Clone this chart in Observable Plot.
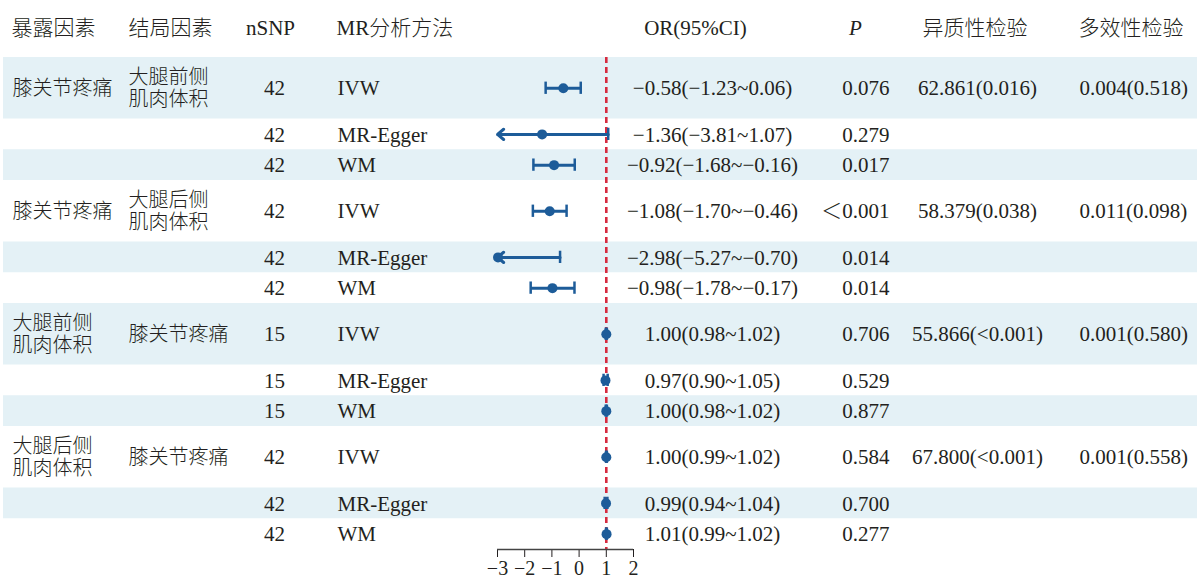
<!DOCTYPE html>
<html>
<head>
<meta charset="utf-8">
<script src="https://cdn.jsdelivr.net/npm/d3@7"></script>
<script src="https://cdn.jsdelivr.net/npm/@observablehq/plot@0.6"></script>
<style>
  html, body { margin: 0; padding: 0; background: #fff; }
  #chart svg { display: block; }
</style>
</head>
<body>
<div id="chart"></div>
<script>
// ---------------- data ----------------
const headerLabels = ["暴露因素", "结局因素", "nSNP", "MR分析方法", "OR(95%CI)", "P", "异质性检验", "多效性检验"];
const exposures = ["膝关节疼痛", "膝关节疼痛", "大腿前侧\n肌肉体积", "大腿后侧\n肌肉体积"];
const outcomes = ["大腿前侧\n肌肉体积", "大腿后侧\n肌肉体积", "膝关节疼痛", "膝关节疼痛"];
const methodNames = ["IVW", "MR-Egger", "WM"];
const nSNP = [42, 42, 42, 42, 42, 42, 15, 15, 15, 42, 42, 42];
const orEst = [-0.58, -1.36, -0.92, -1.08, -2.98, -0.98, 1.00, 0.97, 1.00, 1.00, 0.99, 1.01];
const ciLow = [-1.23, -3.81, -1.68, -1.70, -5.27, -1.78, 0.98, 0.90, 0.98, 0.99, 0.94, 0.99];
const ciHigh = [0.06, 1.07, -0.16, -0.46, -0.70, -0.17, 1.02, 1.05, 1.02, 1.02, 1.04, 1.02];
const pText = ["0.076", "0.279", "0.017", "＜0.001", "0.014", "0.014", "0.706", "0.529", "0.877", "0.584", "0.700", "0.277"];
const heterogeneity = ["62.861(0.016)", "58.379(0.038)", "55.866(<0.001)", "67.800(<0.001)"];
const pleiotropy = ["0.004(0.518)", "0.011(0.098)", "0.001(0.580)", "0.001(0.558)"];
const xTicks = [-3, -2, -1, 0, 1, 2];
const refValue = 1;

// ---------------- layout ----------------
const W = 1197, H = 582;
const mLeft = 497, mRight = W - 633, mTop = 57, mBottom = H - 549;
const xDomain = [-3, 2];
const fmt = d3.format(".2f");
const serif = "'Liberation Serif', 'Times New Roman', 'Noto Sans CJK SC', serif";
const ink = "#231f20";
const blue = "#1d5c99";

let acc = 0;
const rows = orEst.map((est, i) => {
  const g = Math.floor(i / 3), k = i % 3;
  const method = methodNames[k];
  const h = method === "IVW" ? 2 : 1;
  const y1 = acc; acc += h;
  return {
    i, method, est,
    n: String(nSNP[i]),
    lo: ciLow[i], hi: ciHigh[i],
    loShown: Math.max(ciLow[i], xDomain[0]),
    clipped: ciLow[i] < xDomain[0],
    orText: `${fmt(est)}(${fmt(ciLow[i])}~${fmt(ciHigh[i])})`,
    p: pText[i],
    exp: k === 0 ? exposures[g] : "",
    out: k === 0 ? outcomes[g] : "",
    het: k === 0 ? heterogeneity[g] : "",
    ple: k === 0 ? pleiotropy[g] : "",
    y1, y2: acc, yc: y1 + h / 2,
    shaded: i % 2 === 0
  };
});
const yMax = acc;

const columns = [
  {field: "exp", px: 12, anchor: "start", hpx: 11, hanchor: "start", size: 20},
  {field: "out", px: 128, anchor: "start", hpx: 128, hanchor: "start", size: 20},
  {field: "n", px: 274, anchor: "middle", hpx: 270, hanchor: "middle"},
  {field: "method", px: 337, anchor: "start", hpx: 336, hanchor: "start"},
  {field: "orText", px: 712, anchor: "middle", hpx: 695, hanchor: "middle"},
  {field: "p", px: 889, anchor: "end", hpx: 855, hanchor: "middle", hstyle: "italic"},
  {field: "het", px: 977, anchor: "middle", hpx: 922, hanchor: "start"},
  {field: "ple", px: 1079, anchor: "start", hpx: 1078, hanchor: "start"}
];

const marks = [];
marks.push(Plot.rect(rows.filter(d => d.shaded), {
  x1: xDomain[0], x2: xDomain[1], y1: "y1", y2: "y2",
  fill: "#e4f1f6", insetLeft: -(mLeft - 3), insetRight: -mRight
}));
marks.push(Plot.ruleX([refValue], {y1: 0, y2: yMax, stroke: "#d62a3f", strokeWidth: 2.6, strokeDasharray: "6,4"}));
marks.push(Plot.ruleY(rows.filter(d => !d.clipped), {y: "yc", x1: "lo", x2: "hi", stroke: blue, strokeWidth: 3}));
marks.push(Plot.arrow(rows.filter(d => d.clipped), {
  x1: "hi", x2: "loShown", y1: "yc", y2: "yc",
  stroke: blue, strokeWidth: 3, headLength: 4, headAngle: 80
}));
marks.push(Plot.ruleX(rows, {x: "hi", y1: d => d.yc - 0.2, y2: d => d.yc + 0.2, stroke: blue, strokeWidth: 2.5}));
marks.push(Plot.ruleX(rows.filter(d => !d.clipped), {x: "lo", y1: d => d.yc - 0.2, y2: d => d.yc + 0.2, stroke: blue, strokeWidth: 2.5}));
marks.push(Plot.dot(rows, {x: "est", y: "yc", r: 5, fill: blue, stroke: "none"}));
marks.push(Plot.ruleY([yMax], {x1: xDomain[0], x2: xDomain[1], stroke: "#444", strokeWidth: 1.5}));

for (const c of columns) {
  marks.push(Plot.text(rows, {
    y: "yc", text: c.field, frameAnchor: "left", dx: c.px - mLeft,
    textAnchor: c.anchor, lineAnchor: "middle", lineHeight: 1.06,
    fontSize: c.size || 21, fontFamily: serif, fill: ink, fontWeight: 300
  }));
}
columns.forEach((c, j) => {
  marks.push(Plot.text([headerLabels[j]], {
    text: d => d, frameAnchor: "top-left", dx: c.hpx - mLeft, dy: 28 - mTop,
    textAnchor: c.hanchor, lineAnchor: "middle",
    fontSize: 21, fontFamily: serif, fill: ink, fontWeight: 300, fontStyle: c.hstyle || "normal"
  }));
});

const chart = Plot.plot({
  width: W, height: H,
  marginLeft: mLeft, marginRight: mRight, marginTop: mTop, marginBottom: mBottom,
  style: {fontFamily: serif, fontSize: "20px", color: ink, background: "#fff", overflow: "visible"},
  x: {domain: xDomain, ticks: xTicks, tickFormat: "d", tickSize: 8, tickPadding: 3, label: null},
  y: {domain: [0, yMax], reverse: true, axis: null},
  marks
});
document.getElementById("chart").appendChild(chart);
</script>
</body>
</html>
